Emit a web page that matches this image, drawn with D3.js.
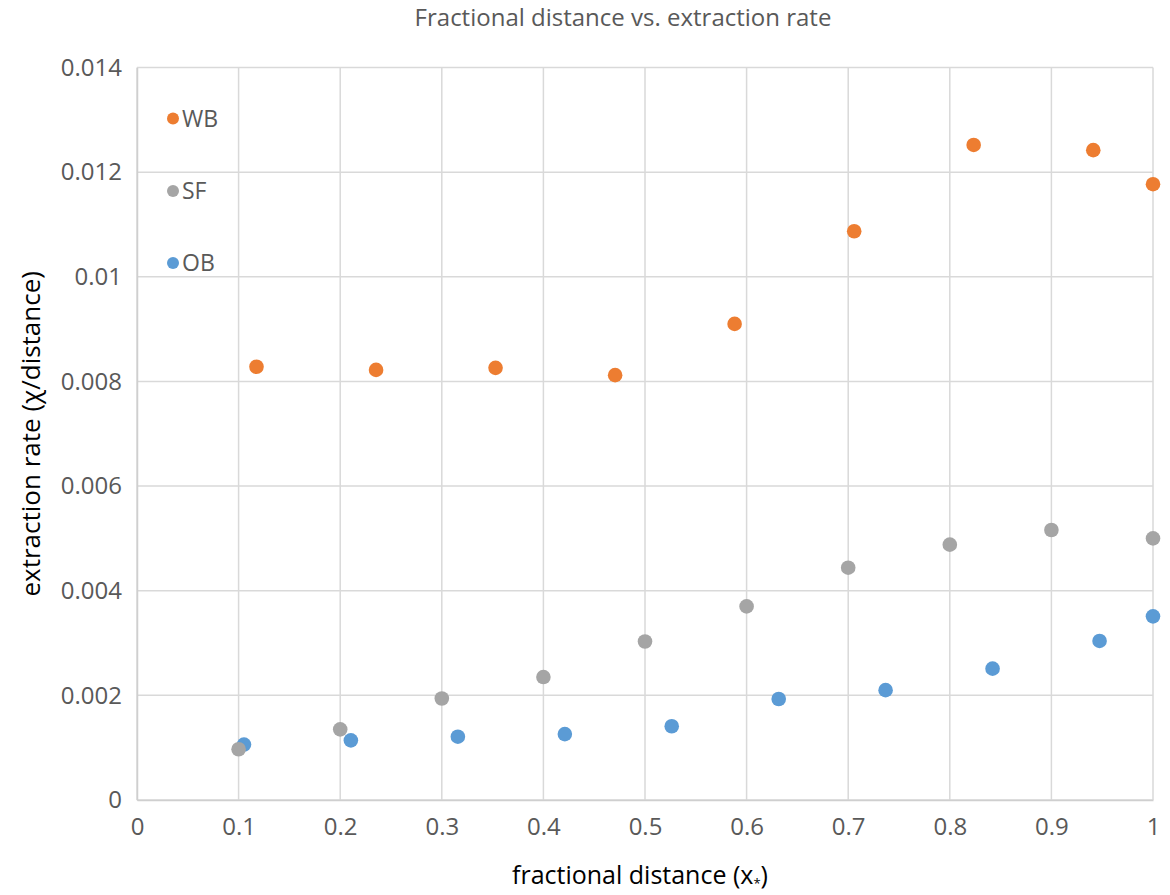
<!DOCTYPE html>
<html>
<head>
<meta charset="utf-8">
<script src="https://cdn.jsdelivr.net/npm/d3@7"></script>
<style>
  html, body { margin: 0; padding: 0; background: #fff; }
  svg { display: block; font-family: "Open Sans", "Noto Sans", sans-serif; }
</style>
</head>
<body>
<svg id="chart" width="1170" height="895"></svg>
<script>
// Extraction rate (χ/distance) against fractional distance x*, three series
const xTicks = [0, 0.1, 0.2, 0.3, 0.4, 0.5, 0.6, 0.7, 0.8, 0.9, 1];
const yTicks = [0, 0.002, 0.004, 0.006, 0.008, 0.01, 0.012, 0.014];
const yTickLabels = ["0", "0.002", "0.004", "0.006", "0.008", "0.01", "0.012", "0.014"];

const wbX = [0.1176, 0.2353, 0.3529, 0.4706, 0.5882, 0.7059, 0.8235, 0.9412, 1.0];
const wbY = [0.00828, 0.00822, 0.00826, 0.00812, 0.00910, 0.01087, 0.01252, 0.01242, 0.01177];

const sfX = [0.1, 0.2, 0.3, 0.4, 0.5, 0.6, 0.7, 0.8, 0.9, 1.0];
const sfY = [0.00097, 0.00135, 0.00194, 0.00235, 0.00303, 0.00370, 0.00444, 0.00488, 0.00516, 0.00500];

const obX = [0.1053, 0.2105, 0.3158, 0.4211, 0.5263, 0.6316, 0.7368, 0.8421, 0.9474, 1.0];
const obY = [0.00106, 0.00114, 0.00121, 0.00126, 0.00141, 0.00193, 0.00210, 0.00251, 0.00304, 0.00351];

const seriesNames = ["WB", "SF", "OB"];
const seriesColors = { WB: "#ED7D31", SF: "#A5A5A5", OB: "#5B9BD5" };

const svg = d3.select("#chart");
const plot = { left: 137, right: 1153, top: 67.5, bottom: 800 };

const x = d3.scaleLinear().domain([0, 1]).range([plot.left, plot.right]);
const y = d3.scaleLinear().domain([0, 0.014]).range([plot.bottom, plot.top]);

const gridColor = "#d9d9d9";
const tickColor = "#595959";

// vertical gridlines
svg.append("g")
  .selectAll("line")
  .data(xTicks)
  .join("line")
  .attr("x1", d => x(d)).attr("x2", d => x(d))
  .attr("y1", plot.top).attr("y2", plot.bottom)
  .attr("stroke", gridColor).attr("stroke-width", 1.5);

// horizontal gridlines
svg.append("g")
  .selectAll("line")
  .data(yTicks)
  .join("line")
  .attr("x1", plot.left).attr("x2", plot.right)
  .attr("y1", d => y(d)).attr("y2", d => y(d))
  .attr("stroke", gridColor).attr("stroke-width", 1.5);

// axes (labels only; lines come from the grid)
const xAxis = svg.append("g")
  .attr("transform", `translate(0,${plot.bottom})`)
  .call(d3.axisBottom(x).tickValues(xTicks).tickSize(0).tickPadding(18)
    .tickFormat(d => d3.format("~g")(d)));
xAxis.select(".domain").attr("stroke", "#cfcfcf").attr("stroke-width", 1.5);
xAxis.selectAll("text")
  .attr("fill", tickColor)
  .style("font-size", "24px")
  .style("font-family", "'Open Sans', sans-serif");

const yAxis = svg.append("g")
  .attr("transform", `translate(${plot.left},0)`)
  .call(d3.axisLeft(y).tickValues(yTicks).tickSize(0).tickPadding(15)
    .tickFormat((d, i) => yTickLabels[i]));
yAxis.select(".domain").attr("stroke", "#cfcfcf").attr("stroke-width", 1.5);
yAxis.selectAll("text")
  .attr("fill", tickColor)
  .style("font-size", "24px")
  .style("font-family", "'Open Sans', sans-serif");

// points: WB, then OB, with SF drawn over OB
const r = 7.3;
function drawSeries(xs, ys, color) {
  svg.append("g")
    .selectAll("circle")
    .data(xs.map((v, i) => [v, ys[i]]))
    .join("circle")
    .attr("cx", d => x(d[0]))
    .attr("cy", d => y(d[1]))
    .attr("r", r)
    .attr("fill", color);
}
drawSeries(wbX, wbY, seriesColors.WB);
drawSeries(obX, obY, seriesColors.OB);
drawSeries(sfX, sfY, seriesColors.SF);

// legend inside the plot area
const legend = svg.append("g").attr("transform", "translate(173,0)");
const legendY = [118.5, 191, 263];
seriesNames.forEach((name, i) => {
  const g = legend.append("g").attr("transform", `translate(0,${legendY[i]})`);
  g.append("circle").attr("r", 6).attr("fill", seriesColors[name]);
  g.append("text")
    .attr("x", 9)
    .attr("dy", "0.35em")
    .attr("fill", tickColor)
    .style("font-size", "23px")
    .text(name);
});

// title
svg.append("text")
  .attr("x", 623)
  .attr("y", 26)
  .attr("text-anchor", "middle")
  .attr("fill", tickColor)
  .style("font-size", "24px")
  .text("Fractional distance vs. extraction rate");

// x axis title with subscript asterisk
const xt = svg.append("text")
  .attr("x", 640)
  .attr("y", 884)
  .attr("text-anchor", "middle")
  .attr("fill", "#000")
  .style("font-size", "25px");
xt.append("tspan").text("fractional distance (x");
xt.append("tspan").attr("baseline-shift", "-30%").style("font-size", "13px").text("*");
xt.append("tspan").text(")");

// y axis title
svg.append("text")
  .attr("transform", `translate(40,${(plot.top + plot.bottom) / 2}) rotate(-90)`)
  .attr("text-anchor", "middle")
  .attr("fill", "#000")
  .style("font-size", "26px")
  .text("extraction rate (χ/distance)");
</script>
</body>
</html>
